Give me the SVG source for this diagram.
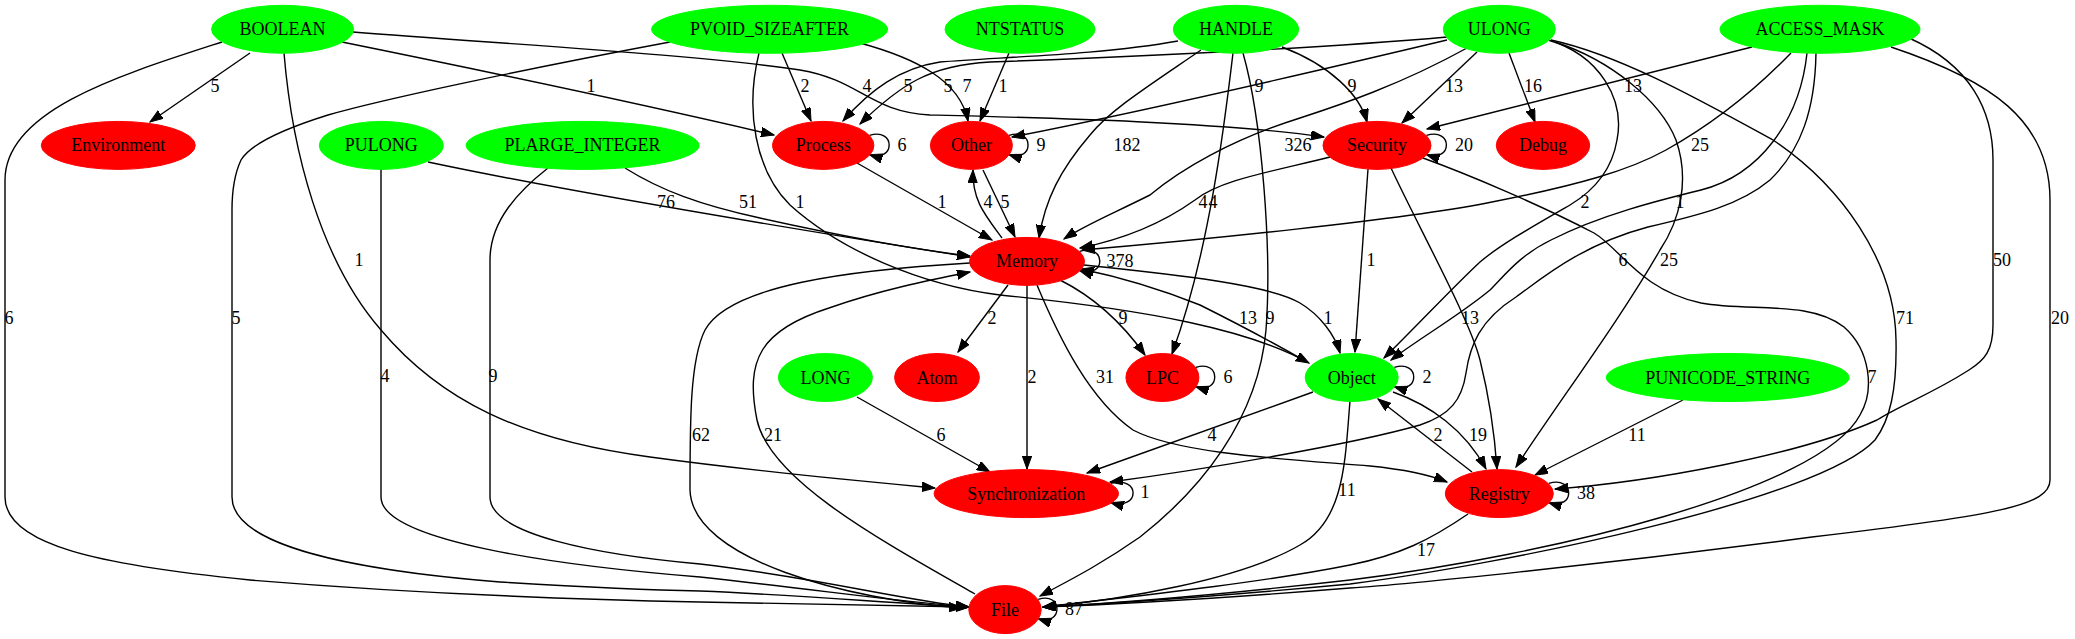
<svg xmlns="http://www.w3.org/2000/svg" width="2075" height="639" viewBox="0 0 2075 639">
<style>
.e{fill:none;stroke:#000;stroke-width:1.4;marker-end:url(#ah)}
.g{fill:#00ff00;stroke:#00ff00}
.r{fill:#ff0000;stroke:#ff0000}
text{font-family:"Liberation Serif","Times New Roman",serif;font-size:18px;fill:#000;text-anchor:middle}
</style>
<defs>
<marker id="ah" markerUnits="userSpaceOnUse" markerWidth="14" markerHeight="10" refX="13" refY="4.7" orient="auto">
<path d="M0,0 L13,4.7 L0,9.4 z" fill="#000" stroke="#000" stroke-width="1"/>
</marker>
</defs>
<rect width="2075" height="639" fill="#fff"/>
<g id="edges">
<path class="e" d="M250,53 L150,122"/>
<path class="e" d="M342,42 C480,70 650,106 774,135"/>
<path class="e" d="M353,32 C520,45 700,55 800,70 C860,80 870,112 930,115 C1050,118 1220,122 1324,137"/>
<path class="e" d="M284,53 C292,150 320,260 381,330 C440,400 520,440 650,457 C760,472 860,481 935,488"/>
<path class="e" d="M222,42 C120,75 5,110 5,180 L5,497 C5,545 100,565 250,580 C420,594 600,600 700,602 C800,604 900,606 969,607"/>
<path class="e" d="M782,53 L811,121"/>
<path class="e" d="M860,43 C915,58 960,80 968,121"/>
<path class="e" d="M670,42 C520,70 380,100 328,115 C280,130 250,145 241,160 C234,175 232,190 232,210 L232,497 C232,545 350,570 500,582 C600,588 650,590 700,591 C800,595 900,604 969,607"/>
<path class="e" d="M759,53 C745,110 755,170 790,205 C840,250 920,285 1000,295 C1150,310 1250,330 1309,363"/>
<path class="e" d="M1009,53 L980,121"/>
<path class="e" d="M1178,41 C1100,55 1000,57 940,62 C900,68 870,90 843,121"/>
<path class="e" d="M1201,50 C1150,85 1110,110 1090,135 C1060,170 1045,200 1039,238"/>
<path class="e" d="M1233,53 C1225,120 1210,250 1172,354"/>
<path class="e" d="M1243,53 C1262,120 1272,250 1266,330 C1258,420 1200,490 1140,537 C1100,565 1070,580 1040,596"/>
<path class="e" d="M1282,47 C1330,65 1360,95 1367,122"/>
<path class="e" d="M1447,37 C1300,50 1100,58 990,62 C930,65 900,85 860,124"/>
<path class="e" d="M1447,40 C1300,75 1150,110 1012,137"/>
<path class="e" d="M1467,48 C1400,85 1340,105 1300,118 C1230,140 1180,170 1150,195 C1110,215 1085,225 1064,239"/>
<path class="e" d="M1477,52 L1402,123"/>
<path class="e" d="M1509,53 L1535,122"/>
<path class="e" d="M1548,40 C1600,55 1625,100 1617,140 C1612,170 1595,190 1570,205 C1530,228 1500,245 1480,262 C1450,290 1415,328 1384,358"/>
<path class="e" d="M1555,42 C1610,60 1660,100 1676,140 C1690,180 1680,220 1660,250 C1620,320 1560,400 1516,467"/>
<path class="e" d="M1551,40 C1620,55 1700,100 1773,140 C1840,185 1895,260 1896,340 C1897,390 1890,420 1875,440 C1820,500 1500,565 1350,584 C1200,598 1100,604 1043,607"/>
<path class="e" d="M1752,47 L1427,129"/>
<path class="e" d="M1791,53 C1760,85 1720,120 1666,150 C1630,170 1580,185 1487,203 C1400,220 1200,240 1082,250"/>
<path class="e" d="M1807,53 C1800,120 1760,175 1701,190 C1660,200 1600,215 1551,240 C1520,255 1505,275 1490,290 C1460,315 1420,338 1391,360"/>
<path class="e" d="M1816,53 C1815,110 1801,150 1770,180 C1740,205 1700,215 1648,227 C1580,245 1540,280 1516,297 C1480,320 1470,345 1466,373 C1462,400 1450,415 1420,425 C1350,445 1200,470 1110,482"/>
<path class="e" d="M1909,38 C1970,65 1993,110 1993,160 L1993,325 C1993,350 1985,360 1969,370 C1930,395 1900,405 1877,420 C1800,455 1650,482 1555,489"/>
<path class="e" d="M1891,47 C1990,80 2050,120 2050,200 L2050,480 C2050,505 2000,515 1812,537 C1600,565 1400,585 1350,588 C1200,600 1100,605 1043,607"/>
<path class="e" d="M428,162 C560,190 800,230 970,257"/>
<path class="e" d="M381,169 L381,497 C381,540 550,565 700,577 C820,590 900,602 969,607"/>
<path class="e" d="M625,168 C660,190 700,205 760,218 C850,238 920,250 970,256"/>
<path class="e" d="M548,168 C520,190 490,220 490,260 L490,497 C490,535 600,555 700,564 C820,578 900,600 969,607"/>
<path class="e" d="M857,163 L992,240"/>
<path class="e" d="M1002,238 C985,215 972,200 973,170"/>
<path class="e" d="M983,170 L1015,237"/>
<path class="e" d="M1330,157 C1270,172 1220,180 1195,200 C1160,225 1120,240 1080,248"/>
<path class="e" d="M1368,169 L1355,352"/>
<path class="e" d="M1391,168 C1420,230 1470,320 1480,360 C1490,400 1495,440 1497,469"/>
<path class="e" d="M1423,158 C1470,175 1540,205 1594,233 C1620,248 1640,290 1701,303 C1750,312 1810,300 1844,327 C1870,350 1875,390 1860,415 C1820,490 1550,555 1350,580 C1200,597 1100,604 1043,607"/>
<path class="e" d="M1008,285 L958,352"/>
<path class="e" d="M1027,285 L1027,469"/>
<path class="e" d="M1060,280 C1090,295 1120,320 1145,355"/>
<path class="e" d="M1037,285 C1060,340 1090,400 1133,430 C1180,455 1300,460 1370,466 C1410,470 1430,475 1447,482"/>
<path class="e" d="M1084,265 C1180,275 1270,285 1300,303 C1320,315 1335,335 1340,353"/>
<path class="e" d="M1307,362 C1260,335 1230,320 1200,305 C1150,285 1110,275 1081,269"/>
<path class="e" d="M857,397 L990,472"/>
<path class="e" d="M1313,392 L1087,473"/>
<path class="e" d="M1393,392 C1430,405 1465,430 1486,469"/>
<path class="e" d="M1472,472 L1378,399"/>
<path class="e" d="M1350,401 C1345,460 1345,520 1300,545 C1240,580 1120,600 1043,607"/>
<path class="e" d="M1683,400 L1535,475"/>
<path class="e" d="M1468,514 C1430,540 1400,555 1350,565 C1250,585 1100,600 1043,607"/>
<path class="e" d="M970,263 C850,270 730,285 705,330 C690,360 690,420 690,490 C692,560 850,600 962,608"/>
<path class="e" d="M975,594 C880,540 770,480 757,420 C745,360 760,330 829,308 C880,290 930,280 970,272"/>
<path class="e" d="M869.5,135.4 C895.7,127 895.7,163 869.5,154.6"/>
<path class="e" d="M1009,135.4 C1034.4,127 1034.4,163 1009,154.6"/>
<path class="e" d="M1426.5,135.4 C1453,127 1453,163 1426.5,154.6"/>
<path class="e" d="M1079.7,251.4 C1106.5,243 1106.5,279 1079.7,270.6"/>
<path class="e" d="M1195.9,367.4 C1221,359 1221,395 1195.9,386.6"/>
<path class="e" d="M1394.3,367.4 C1420.2,359 1420.2,395 1394.3,386.6"/>
<path class="e" d="M1110.8,483.4 C1140.5,475 1140.5,511 1110.8,502.6"/>
<path class="e" d="M1548.8,483.4 C1575.3,475 1575.3,511 1548.8,502.6"/>
<path class="e" d="M1038.2,599.4 C1063.2,591 1063.2,627 1038.2,618.6"/>
</g>
<g id="edge-labels">
<text x="215" y="92">5</text><text x="591" y="92">1</text><text x="805" y="92">2</text><text x="867" y="92">4</text>
<text x="908" y="92">5</text><text x="948" y="92">5</text><text x="967" y="92">7</text><text x="1003" y="92">1</text>
<text x="1259" y="92">9</text><text x="1352" y="92">9</text><text x="1454" y="92">13</text><text x="1533" y="92">16</text><text x="1633" y="92">13</text>
<text x="1127" y="151">182</text><text x="1298" y="151">326</text><text x="1700" y="151">25</text>
<text x="902" y="151">6</text><text x="1041" y="151">9</text><text x="1464" y="151">20</text>
<text x="666" y="208">76</text><text x="748" y="208">51</text><text x="800" y="208">1</text><text x="942" y="208">1</text>
<text x="988" y="208">4</text><text x="1005" y="208">5</text><text x="1203" y="208">4</text><text x="1213" y="208">4</text>
<text x="1585" y="208">2</text><text x="1680" y="208">1</text>
<text x="359" y="266">1</text><text x="1120" y="267">378</text><text x="1371" y="266">1</text><text x="1623" y="266">6</text>
<text x="1669" y="266">25</text><text x="2002" y="266">50</text>
<text x="9" y="324">6</text><text x="236" y="324">5</text><text x="992" y="324">2</text><text x="1123" y="324">9</text>
<text x="1248" y="324">13</text><text x="1270" y="324">9</text><text x="1328" y="324">1</text><text x="1470" y="324">13</text>
<text x="1905" y="324">71</text><text x="2060" y="324">20</text>
<text x="385" y="382">4</text><text x="493" y="382">9</text><text x="1032" y="383">2</text><text x="1105" y="383">31</text>
<text x="1228" y="383">6</text><text x="1427" y="383">2</text><text x="1872" y="383">7</text>
<text x="701" y="441">62</text><text x="773" y="441">21</text><text x="941" y="441">6</text><text x="1212" y="441">4</text>
<text x="1438" y="441">2</text><text x="1478" y="441">19</text><text x="1637" y="441">11</text>
<text x="1145" y="498">1</text><text x="1347" y="496">11</text><text x="1586" y="499">38</text>
<text x="1426" y="556">17</text>
<text x="1074" y="615">87</text>
</g>
<g id="node-BOOLEAN"><ellipse class="g" cx="282.6" cy="29.3" rx="71" ry="24"/><text x="282.6" y="35.3">BOOLEAN</text></g>
<g id="node-PVOID_SIZEAFTER"><ellipse class="g" cx="769.6" cy="29.3" rx="118" ry="24"/><text x="769.6" y="35.3">PVOID_SIZEAFTER</text></g>
<g id="node-NTSTATUS"><ellipse class="g" cx="1020" cy="29.3" rx="75" ry="24"/><text x="1020" y="35.3">NTSTATUS</text></g>
<g id="node-HANDLE"><ellipse class="g" cx="1236" cy="29.3" rx="62.7" ry="24"/><text x="1236" y="35.3">HANDLE</text></g>
<g id="node-ULONG"><ellipse class="g" cx="1499.3" cy="29.3" rx="56" ry="24"/><text x="1499.3" y="35.3">ULONG</text></g>
<g id="node-ACCESS_MASK"><ellipse class="g" cx="1820" cy="29.3" rx="100" ry="24"/><text x="1820" y="35.3">ACCESS_MASK</text></g>
<g id="node-Environment"><ellipse class="r" cx="118.3" cy="145.4" rx="77" ry="24"/><text x="118.3" y="151.4">Environment</text></g>
<g id="node-PULONG"><ellipse class="g" cx="381.3" cy="145.4" rx="62" ry="24"/><text x="381.3" y="151.4">PULONG</text></g>
<g id="node-PLARGE_INTEGER"><ellipse class="g" cx="582.6" cy="145.4" rx="116.5" ry="24"/><text x="582.6" y="151.4">PLARGE_INTEGER</text></g>
<g id="node-Process"><ellipse class="r" cx="823.2" cy="145.4" rx="50.7" ry="24"/><text x="823.2" y="151.4">Process</text></g>
<g id="node-Other"><ellipse class="r" cx="971.4" cy="145.4" rx="41" ry="24"/><text x="971.4" y="151.4">Other</text></g>
<g id="node-Security"><ellipse class="r" cx="1377" cy="145.4" rx="54" ry="24"/><text x="1377" y="151.4">Security</text></g>
<g id="node-Debug"><ellipse class="r" cx="1543" cy="145.4" rx="46.7" ry="24"/><text x="1543" y="151.4">Debug</text></g>
<g id="node-Memory"><ellipse class="r" cx="1027" cy="261.4" rx="57.5" ry="24"/><text x="1027" y="267.4">Memory</text></g>
<g id="node-LONG"><ellipse class="g" cx="825.4" cy="377.5" rx="47" ry="24"/><text x="825.4" y="383.5">LONG</text></g>
<g id="node-Atom"><ellipse class="r" cx="937" cy="377.5" rx="42.4" ry="24"/><text x="937" y="383.5">Atom</text></g>
<g id="node-LPC"><ellipse class="r" cx="1162.4" cy="377.5" rx="36.5" ry="24"/><text x="1162.4" y="383.5">LPC</text></g>
<g id="node-Object"><ellipse class="g" cx="1351.7" cy="377.5" rx="46.5" ry="24"/><text x="1351.7" y="383.5">Object</text></g>
<g id="node-PUNICODE_STRING"><ellipse class="g" cx="1727.7" cy="377.5" rx="121.4" ry="24"/><text x="1727.7" y="383.5">PUNICODE_STRING</text></g>
<g id="node-Synchronization"><ellipse class="r" cx="1026.3" cy="493.6" rx="92.2" ry="24"/><text x="1026.3" y="499.6">Synchronization</text></g>
<g id="node-Registry"><ellipse class="r" cx="1499.3" cy="493.6" rx="54" ry="24"/><text x="1499.3" y="499.6">Registry</text></g>
<g id="node-File"><ellipse class="r" cx="1005" cy="609.6" rx="36.2" ry="24"/><text x="1005" y="615.6">File</text></g>
</svg>
